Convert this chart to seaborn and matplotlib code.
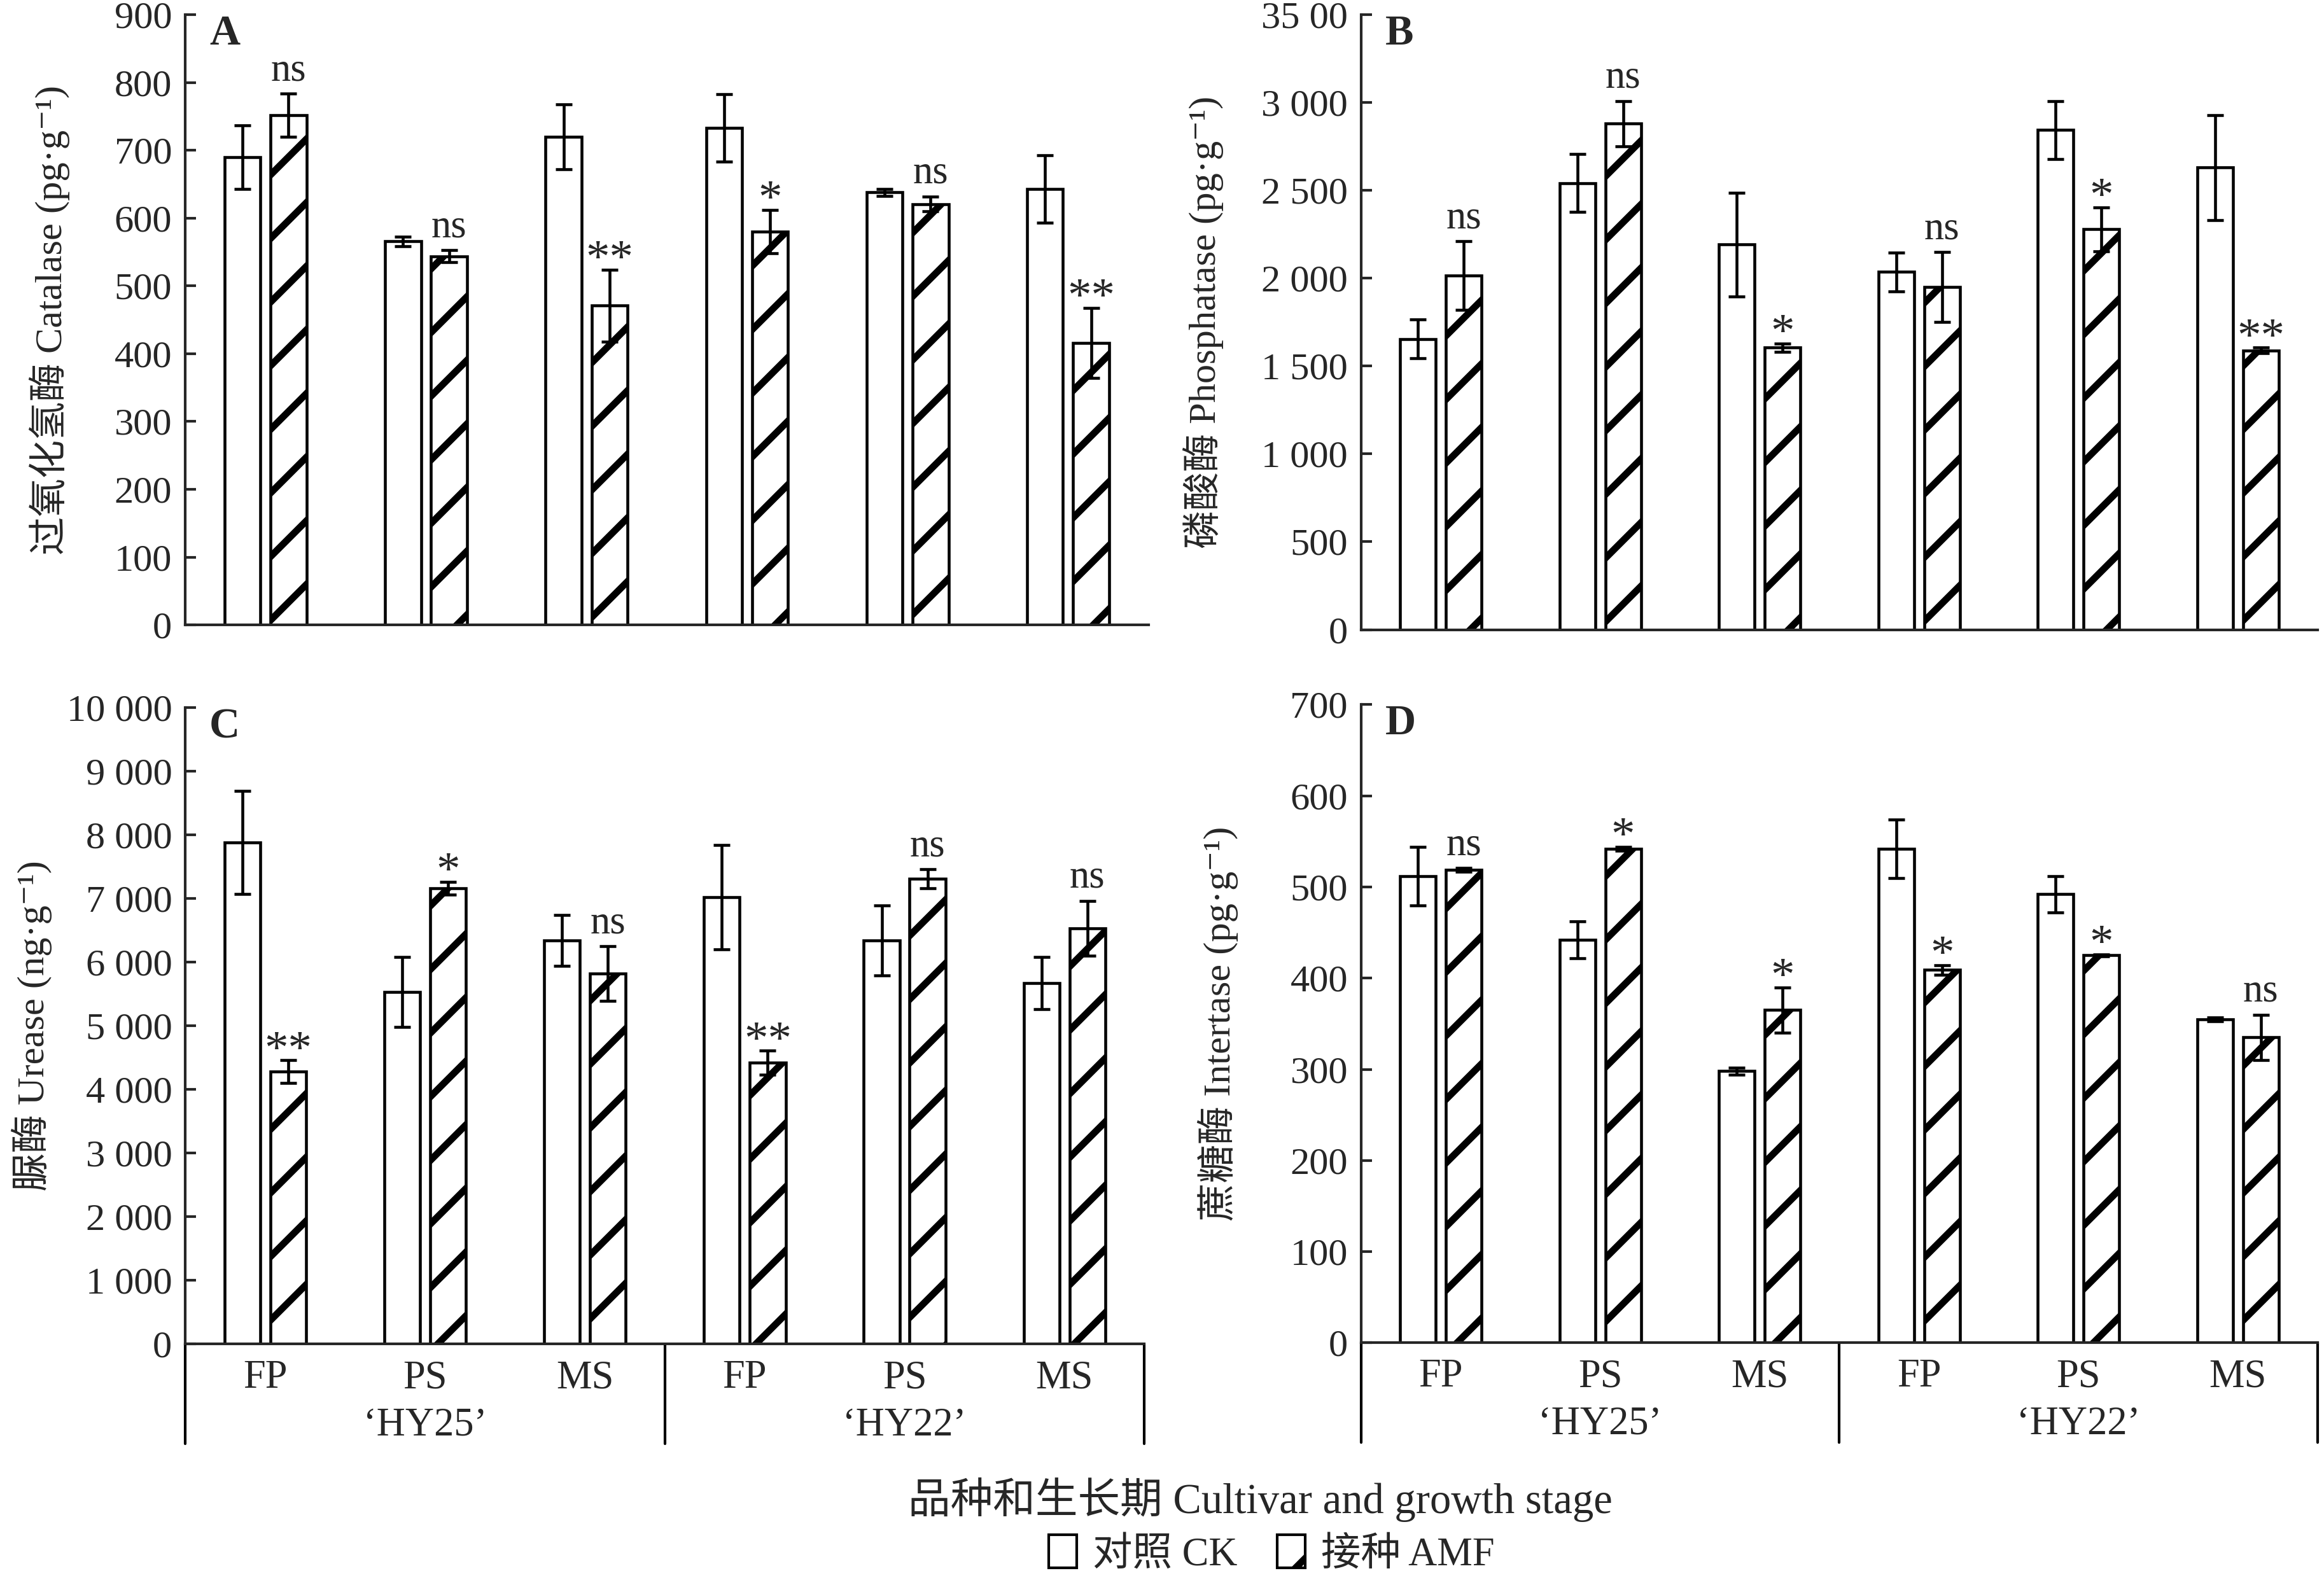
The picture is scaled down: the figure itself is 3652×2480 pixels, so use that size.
import numpy as np
import pandas as pd
import matplotlib
matplotlib.use("Agg")
import matplotlib.pyplot as plt
import matplotlib.transforms as mtransforms
from matplotlib.patches import Patch
import seaborn as sns

# x categories (cultivar x growth stage)
slots = ["HY25-FP", "HY25-PS", "HY25-MS", "HY22-FP", "HY22-PS", "HY22-MS"]
stage_labels = ["FP", "PS", "MS", "FP", "PS", "MS"]
cultivar_labels = ["\u2018HY25\u2019", "\u2018HY22\u2019"]
treatments = ["CK", "AMF"]

# A catalase (pg/g)
catalase_ck = [690, 566, 720, 733, 638, 643]
catalase_ck_err = [47, 7, 48, 50, 5, 50]
catalase_amf = [752, 544, 471, 580, 621, 416]
catalase_amf_err = [32, 9, 53, 32, 11, 52]
catalase_sig = ["ns", "ns", "**", "*", "ns", "**"]
catalase_ticks = ["0", "100", "200", "300", "400", "500", "600", "700", "800", "900"]

# B phosphatase (pg/g)
phosphatase_ck = [1655, 2542, 2192, 2036, 2845, 2630]
phosphatase_ck_err = [110, 165, 295, 110, 165, 300]
phosphatase_amf = [2017, 2880, 1605, 1950, 2280, 1590]
phosphatase_amf_err = [195, 130, 25, 200, 125, 15]
phosphatase_sig = ["ns", "ns", "*", "ns", "*", "**"]
phosphatase_ticks = ["0", "500", "1 000", "1 500", "2 000", "2 500", "3 000", "35 00"]

# C urease (ng/g)
urease_ck = [7880, 5530, 6346, 7020, 6346, 5673]
urease_ck_err = [810, 550, 400, 820, 550, 410]
urease_amf = [4278, 7160, 5820, 4418, 7307, 6536]
urease_amf_err = [180, 100, 430, 190, 150, 430]
urease_sig = ["**", "*", "ns", "**", "ns", "ns"]
urease_ticks = ["0", "1 000", "2 000", "3 000", "4 000", "5 000",
                "6 000", "7 000", "8 000", "9 000", "10 000"]

# D invertase (pg/g)
invertase_ck = [512, 442, 298, 542, 492, 355]
invertase_ck_err = [32, 20, 4, 32, 20, 2]
invertase_amf = [519, 542, 365, 409, 425, 335]
invertase_amf_err = [2, 2, 25, 5, 1, 25]
invertase_sig = ["ns", "*", "*", "*", "*", "ns"]
invertase_ticks = ["0", "100", "200", "300", "400", "500", "600", "700"]

sns.set_style("white")
plt.rcParams["font.family"] = ["Liberation Serif", "Noto Sans CJK SC", "DejaVu Serif"]
plt.rcParams["axes.linewidth"] = 1.0
plt.rcParams["hatch.linewidth"] = 2.6
plt.rcParams["hatch.color"] = "black"
plt.rcParams["ytick.direction"] = "in"
plt.rcParams["ytick.major.size"] = 4
plt.rcParams["ytick.major.width"] = 1.0
plt.rcParams["ytick.left"] = True

fig = plt.figure(figsize=(3653 / 300, 2480 / 300), dpi=300)
ax_a = fig.add_axes([0.0797, 0.604, 0.4143, 0.3866])
ax_b = fig.add_axes([0.5855, 0.601, 0.4115, 0.3896])
ax_c = fig.add_axes([0.0797, 0.1482, 0.4126, 0.4034])
ax_d = fig.add_axes([0.5855, 0.149, 0.4115, 0.4045])


def draw_panel(ax, ck, ck_err, amf, amf_err, sig, top, step, ticks,
               ylabel, label_x, letter, bottom):
    df = pd.DataFrame({
        "slot": slots * 2,
        "treatment": ["CK"] * 6 + ["AMF"] * 6,
        "value": ck + amf,
    })
    sns.barplot(data=df, x="slot", y="value", hue="treatment", order=slots,
                hue_order=treatments, palette={"CK": "white", "AMF": "white"},
                edgecolor="black", linewidth=1.1, width=0.574, gap=0.22,
                errorbar=None, legend=False, ax=ax)
    bars = list(ax.containers[:2])
    for b in bars[1]:
        b.set_hatch("/")

    for cont, err in zip(bars, [ck_err, amf_err]):
        xs = [b.get_x() + b.get_width() / 2 for b in cont]
        ys = [b.get_height() for b in cont]
        ax.errorbar(xs, ys, yerr=err, fmt="none", ecolor="black",
                    elinewidth=1.1, capsize=3.2, capthick=1.1)

    for b, e, s in zip(bars[1], amf_err, sig):
        x = b.get_x() + b.get_width() / 2
        if s == "ns":
            ax.annotate(s, (x, b.get_height() + e), xytext=(0, 5),
                        textcoords="offset points", ha="center", va="baseline",
                        fontsize=15)
        else:
            ax.annotate(s, (x, b.get_height() + e), xytext=(0, -1),
                        textcoords="offset points", ha="center", va="baseline",
                        fontsize=18)

    ax.set_xlim(-0.5, 5.5)
    ax.set_ylim(0, top)
    ax.set_yticks(np.arange(0, top + step / 2, step))
    ax.set_yticklabels(ticks, fontsize=14.5)
    ax.tick_params(axis="y", pad=5)
    ax.set_ylabel(ylabel, fontsize=14.5)
    ax.yaxis.set_label_coords(label_x, 0.5)
    ax.set_xlabel("")
    sns.despine(ax=ax)
    ax.text(0.025, 1.0, letter, transform=ax.transAxes, fontsize=16,
            fontweight="bold", va="top", ha="left")

    if bottom:
        ax.set_xticks(range(6))
        ax.set_xticklabels(stage_labels, fontsize=15)
        ax.tick_params(axis="x", length=0, pad=6)
        trans = mtransforms.blended_transform_factory(ax.transData, ax.transAxes)
        for xv in [-0.5, 2.5, 5.5]:
            ax.plot([xv, xv], [0, -0.156], transform=trans, color="black",
                    lw=1.0, clip_on=False)
        for xc, name in zip([1, 4], cultivar_labels):
            ax.text(xc, -0.128, name, transform=trans, ha="center",
                    va="center", fontsize=15)
    else:
        ax.set_xticks([])


draw_panel(ax_a, catalase_ck, catalase_ck_err, catalase_amf, catalase_amf_err,
           catalase_sig, 900, 100, catalase_ticks,
           "过氧化氢酶 Catalase (pg·g\u207b\u00b9)", -0.12, "A", False)
draw_panel(ax_b, phosphatase_ck, phosphatase_ck_err, phosphatase_amf,
           phosphatase_amf_err, phosphatase_sig, 3500, 500, phosphatase_ticks,
           "磷酸酶 Phosphatase (pg·g\u207b\u00b9)", -0.1435, "B", False)
draw_panel(ax_c, urease_ck, urease_ck_err, urease_amf, urease_amf_err,
           urease_sig, 10000, 1000, urease_ticks,
           "脲酶 Urease (ng·g\u207b\u00b9)", -0.139, "C", True)
draw_panel(ax_d, invertase_ck, invertase_ck_err, invertase_amf,
           invertase_amf_err, invertase_sig, 700, 100, invertase_ticks,
           "蔗糖酶 Intertase (pg·g\u207b\u00b9)", -0.128, "D", True)

fig.text(0.542, 0.0497, "品种和生长期 Cultivar and growth stage",
         ha="center", va="center", fontsize=16)

handles = [Patch(facecolor="white", edgecolor="black", linewidth=1.0),
           Patch(facecolor="white", edgecolor="black", linewidth=1.0, hatch="/")]
fig.legend(handles, ["对照 CK", "接种 AMF"], loc="center",
           bbox_to_anchor=(0.547, 0.015), ncol=2, frameon=False, fontsize=15,
           handlelength=0.7, handleheight=0.9, columnspacing=1.0,
           handletextpad=0.4, borderpad=0.1)

fig.savefig("out.png", dpi=300)
